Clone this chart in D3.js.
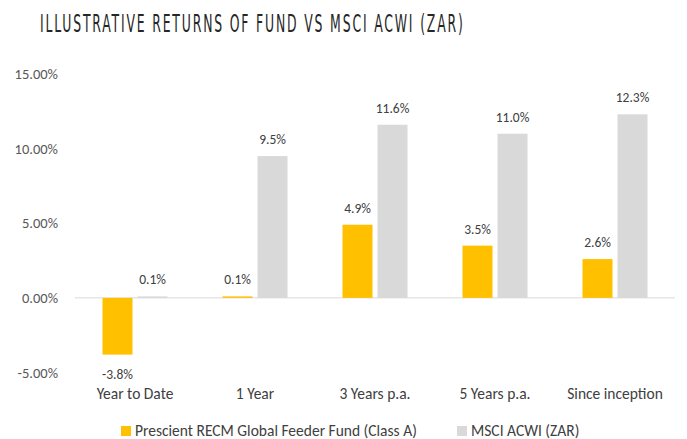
<!DOCTYPE html>
<html><head><meta charset="utf-8">
<script src="https://cdn.jsdelivr.net/npm/d3@7"></script>
<style>body{margin:0;background:#fff;} svg{display:block;}</style>
</head><body>
<svg id="c" width="687" height="439"></svg>
<script>
const title = "ILLUSTRATIVE RETURNS OF FUND VS MSCI ACWI (ZAR)";
const categories = ["Year to Date", "1 Year", "3 Years p.a.", "5 Years p.a.", "Since inception"];
const seriesNames = ["Prescient RECM Global Feeder Fund (Class A)", "MSCI ACWI (ZAR)"];
const fundValues = [-3.8, 0.1, 4.9, 3.5, 2.6];
const msciValues = [0.1, 9.5, 11.6, 11.0, 12.3];
const yTicks = [-5, 0, 5, 10, 15];
const colors = ["#FFC000", "#D9D9D9"];

const svg = d3.select("#c");
const font = "Carlito, 'Liberation Sans', Arial, sans-serif";

const x = d3.scaleBand().domain(categories).range([75, 675]);
const y = d3.scaleLinear().domain([-5, 15]).range([372.5, 74]);
const barW = 30, gap = 5;

// title: condensed, letter-spaced
const tg = svg.append("g");
const tt = tg.append("text").attr("x", 0).attr("y", 0)
  .attr("font-family", "'Liberation Sans Narrow','DejaVu Sans Condensed',sans-serif")
  .attr("font-size", 24).attr("letter-spacing", 3.2).attr("fill", "#262626").text(title);
const tw = tt.node().getComputedTextLength() - 3.2;
tg.attr("transform", `translate(40,32) scale(${423 / tw},1)`);

// y axis labels
const yAxis = d3.axisLeft(y).tickValues(yTicks).tickFormat(d => d.toFixed(2) + "%").tickSize(0).tickPadding(0);
const ya = svg.append("g").attr("transform", "translate(58,0)").call(yAxis);
ya.select(".domain").remove();
ya.selectAll("text").attr("font-family", font).attr("font-size", 14.5).attr("fill", "#595959");

// zero line
svg.append("line").attr("x1", 75).attr("x2", 675).attr("y1", y(0)).attr("y2", y(0))
  .attr("stroke", "#D9D9D9").attr("stroke-width", 1);

const series = [fundValues, msciValues];
series.forEach((vals, si) => {
  const g = svg.append("g");
  const bx = (c) => x(c) + x.bandwidth() / 2 + (si === 0 ? -(barW + gap / 2) : gap / 2);
  g.selectAll("rect").data(categories).join("rect")
    .attr("x", c => bx(c))
    .attr("width", barW)
    .attr("y", (c, i) => y(Math.max(0, vals[i])))
    .attr("height", (c, i) => Math.abs(y(vals[i]) - y(0)))
    .attr("fill", colors[si]);
  g.selectAll("text").data(categories).join("text")
    .attr("x", c => bx(c) + barW / 2)
    .attr("y", (c, i) => vals[i] >= 0 ? y(vals[i]) - 12 : y(vals[i]) + 24)
    .attr("text-anchor", "middle")
    .attr("font-family", font).attr("font-size", 13.5).attr("fill", "#404040")
    .text((c, i) => vals[i].toFixed(1) + "%");
});

// category axis
const xAxis = d3.axisBottom(x).tickSize(0).tickPadding(0);
const xa = svg.append("g").attr("transform", "translate(0,388)").call(xAxis);
xa.select(".domain").remove();
xa.selectAll("text").attr("font-family", font).attr("font-size", 15.5).attr("fill", "#404040");

// legend
const legX = [121, 457];
seriesNames.forEach((n, i) => {
  svg.append("rect").attr("x", legX[i]).attr("y", 426).attr("width", 10).attr("height", 10).attr("fill", colors[i]);
  svg.append("text").attr("x", legX[i] + 14).attr("y", 436)
    .attr("font-family", font).attr("font-size", 15.5).attr("fill", "#404040").text(n);
});
</script>
</body></html>
